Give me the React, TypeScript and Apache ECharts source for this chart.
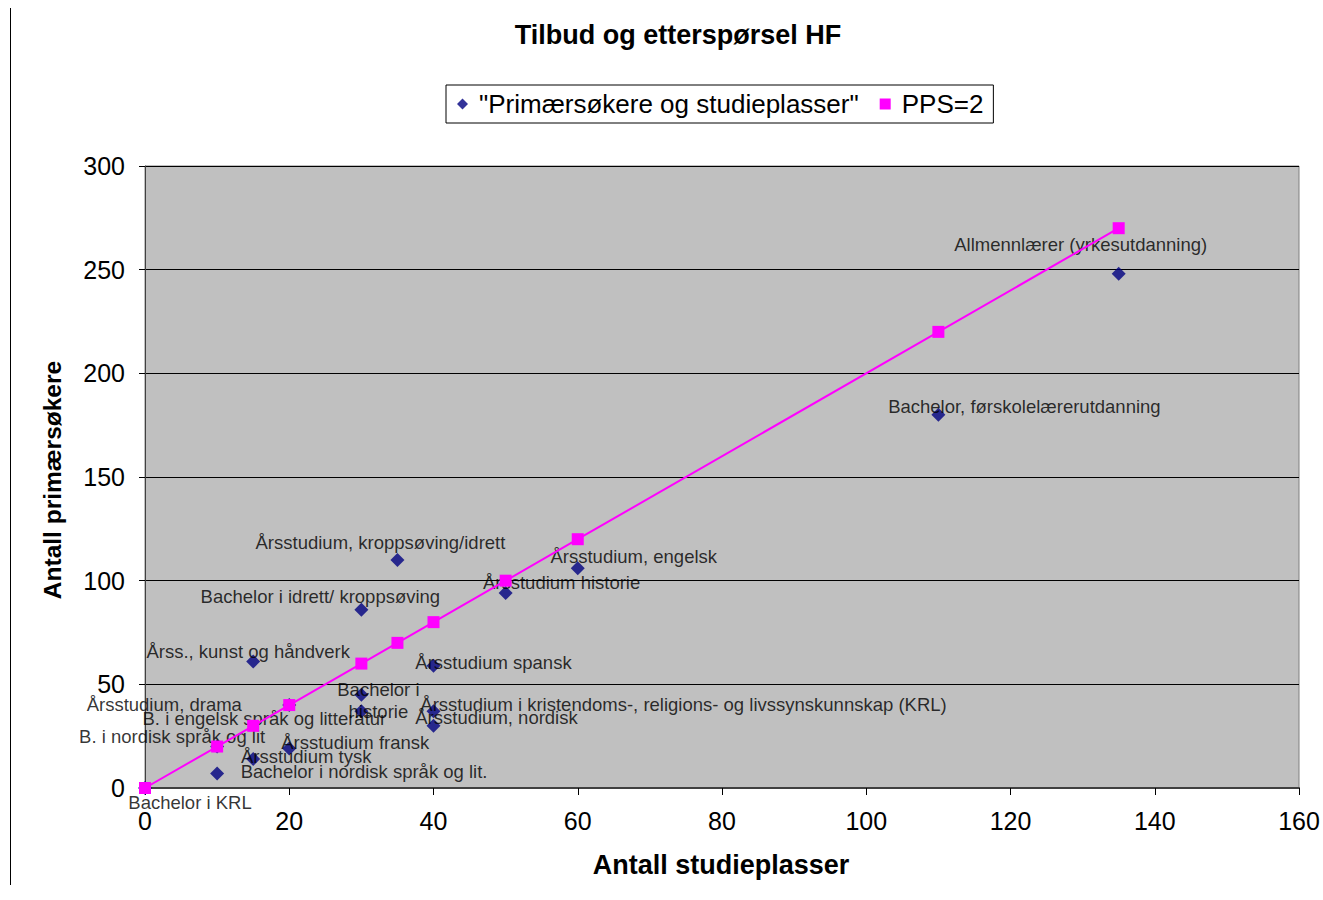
import React, { useEffect, useRef } from "react";
import * as echarts from "echarts";

const FONT = "Liberation Sans, Arial, sans-serif";

const programNames = [
  "Allmennlærer (yrkesutdanning)",
  "Bachelor, førskolelærerutdanning",
  "Årsstudium, kroppsøving/idrett",
  "Årsstudium, engelsk",
  "Bachelor i idrett/ kroppsøving",
  "Årsstudium historie",
  "Årss., kunst og håndverk",
  "Årsstudium spansk",
  "Bachelor i\nhistorie",
  "B. i engelsk språk og litteratur",
  "Årsstudium i kristendoms-, religions- og livssynskunnskap (KRL)",
  "Årsstudium, nordisk",
  "Årsstudium, drama",
  "B. i nordisk språk og lit",
  "Årsstudium fransk",
  "Årsstudium tysk",
  "Bachelor i nordisk språk og lit.",
  "Bachelor i KRL",
];
const studyPlaces = [135, 110, 35, 60, 30, 50, 15, 40, 30, 30, 40, 40, 20, 10, 20, 15, 10, 0];
const primaryApplicants = [248, 180, 110, 106, 86, 94, 61, 59, 45, 37, 37, 30, 40, 20, 19, 14, 7, 0];

// label placement (pixel offsets of the label centre from its point), layout only
const labelOffsets: [number, number][] = [
  [-38, -29], [86, -8], [-17, -17], [56, -12], [-41, -13], [56, -11], [-5, -10], [60, -3],
  [17, 6], [-97, 7], [250, -7], [63, -8], [-125, -1], [-45, -10], [66, -6], [53, -2], [147, -2], [45, 14],
];

const ppsPlaces = [0, 10, 15, 20, 30, 35, 40, 50, 60, 110, 135];
const ppsRatio = 2;

const xTicks = { min: 0, max: 160, interval: 20 };
const yTicks = { min: 0, max: 300, interval: 50 };

const seriesNames = ['"Primærsøkere og studieplasser"', "PPS=2"];

const SYM = 14;

export default function App() {
  const ref = useRef<HTMLDivElement>(null);
  useEffect(() => {
    if (!ref.current) return;
    const chart = echarts.init(ref.current, null, { renderer: "svg" });
    const scatterData = programNames.map((n, i) => ({
      name: n,
      value: [studyPlaces[i], primaryApplicants[i]],
      label: {
        position: [SYM / 2 + labelOffsets[i][0], SYM / 2 + labelOffsets[i][1]],
      },
    }));
    const ppsData = ppsPlaces.map((x) => [x, x * ppsRatio]);
    chart.setOption({
      animation: false,
      backgroundColor: "#ffffff",
      legend: {
        left: 446,
        top: 85,
        orient: "horizontal",
        padding: [6, 10, 6, 11],
        borderColor: "#000",
        borderWidth: 1,
        backgroundColor: "#fff",
        itemWidth: 11,
        itemHeight: 11,
        itemGap: 21,
        formatter: (name: string) => `{t|${name}}`,
        textStyle: {
          fontFamily: FONT,
          fontSize: 26,
          color: "#000",
          rich: { t: { fontFamily: FONT, fontSize: 26, color: "#000", padding: [0, 0, 0, 6] } },
        },
        data: [
          { name: seriesNames[0], icon: "diamond" },
          { name: seriesNames[1], icon: "rect" },
        ],
      },
      grid: {
        left: 145,
        top: 166,
        width: 1154,
        height: 622,
        show: true,
        backgroundColor: "#C0C0C0",
        borderColor: "#808080",
        borderWidth: 1,
      },
      xAxis: {
        type: "value",
        min: xTicks.min,
        max: xTicks.max,
        interval: xTicks.interval,
        axisLine: { show: true, lineStyle: { color: "#404040", width: 2 } },
        axisTick: { show: true, length: 7, lineStyle: { color: "#000" } },
        axisLabel: { margin: 20, fontFamily: FONT, fontSize: 25, color: "#000" },
        splitLine: { show: false },
      },
      yAxis: {
        type: "value",
        min: yTicks.min,
        max: yTicks.max,
        interval: yTicks.interval,
        axisLine: { show: true, lineStyle: { color: "#404040", width: 1 } },
        axisTick: { show: true, length: 6, lineStyle: { color: "#000" } },
        axisLabel: { margin: 20, fontFamily: FONT, fontSize: 25, color: "#000" },
        splitLine: { show: true, lineStyle: { color: "#000", width: 1 } },
      },
      graphic: [
        {
          type: "line",
          shape: { x1: 10.5, y1: 8, x2: 10.5, y2: 885 },
          style: { stroke: "#000", lineWidth: 1 },
        },
        {
          type: "text",
          x: 678,
          y: 35,
          style: {
            text: "Tilbud og etterspørsel HF",
            fontFamily: FONT,
            fontSize: 27,
            fontWeight: "bold",
            fill: "#000",
            align: "center",
            verticalAlign: "middle",
          },
        },
        {
          type: "text",
          x: 52,
          y: 480,
          rotation: Math.PI / 2,
          style: {
            text: "Antall primærsøkere",
            fontFamily: FONT,
            fontSize: 24.5,
            fontWeight: "bold",
            fill: "#000",
            align: "center",
            verticalAlign: "middle",
          },
        },
        {
          type: "text",
          x: 721,
          y: 865,
          style: {
            text: "Antall studieplasser",
            fontFamily: FONT,
            fontSize: 27,
            fontWeight: "bold",
            fill: "#000",
            align: "center",
            verticalAlign: "middle",
          },
        },
      ],
      series: [
        {
          name: seriesNames[0],
          type: "scatter",
          symbol: "diamond",
          symbolSize: SYM,
          itemStyle: { color: "#000080" },
          label: {
            show: true,
            formatter: "{b}",
            fontFamily: FONT,
            fontSize: 18.5,
            color: "#000",
            align: "center",
            verticalAlign: "middle",
            lineHeight: 22,
          },
          labelLayout: { hideOverlap: false },
          data: scatterData,
          z: 2,
        },
        {
          name: seriesNames[1],
          type: "line",
          symbol: "rect",
          symbolSize: 12,
          showSymbol: true,
          lineStyle: { color: "#FF00FF", width: 2 },
          itemStyle: { color: "#FF00FF" },
          data: ppsData,
          z: 3,
        },
      ],
    });
    return () => chart.dispose();
  }, []);
  return (
    <div
      ref={ref}
      style={{ position: "fixed", left: 0, top: 0, width: 1323, height: 900 }}
    />
  );
}
